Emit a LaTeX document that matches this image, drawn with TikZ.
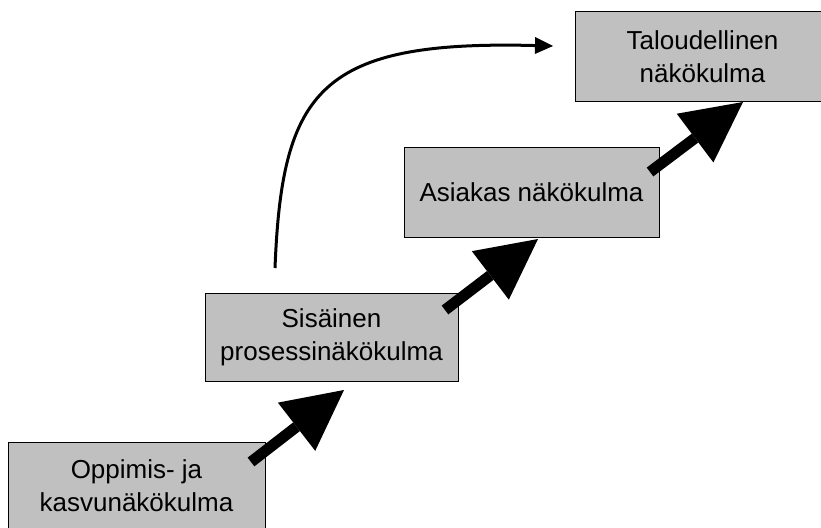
\documentclass[tikz,border=0pt]{standalone}
\usepackage{fontspec}
\setmainfont{Liberation Sans}
\usetikzlibrary{arrows.meta}
\definecolor{boxgray}{RGB}{192,192,192}
\begin{document}
\begin{tikzpicture}[x=1pt,y=-1pt,
  perspbox/.style={draw=black, line width=1pt, fill=boxgray, anchor=north west,
    inner sep=0pt, outer sep=0pt, align=center,
    font=\fontsize{26pt}{33pt}\selectfont, text=black},
  blockarrow/.style={line width=11pt, -{Triangle[length=60pt,width=61pt,line width=0pt]}},
  curvearrow/.style={line width=3pt, -{Triangle[length=18pt,width=17pt,line width=0pt]}}]
\fill[white] (0,0) rectangle (821,527);
\useasboundingbox (0,0) rectangle (821,527);
\clip (0,0) rectangle (821,527);
\node[perspbox, minimum width=257pt, minimum height=88pt] (b1) at (8,442) {Oppimis- ja\\kasvunäkökulma};
\node[perspbox, minimum width=253pt, minimum height=88pt] (b2) at (205,293) {Sisäinen\\prosessinäkökulma};
\node[perspbox, minimum width=255pt, minimum height=90pt] (b3) at (404,147) {Asiakas näkökulma};
\node[perspbox, minimum width=255pt, minimum height=89pt] (b4) at (575,12) {Taloudellinen\\näkökulma};
\coordinate (t1) at (251,462);
\coordinate (h1) at (344,390);
\coordinate (t2) at (445,310);
\coordinate (h2) at (538,239);
\coordinate (t3) at (650,172);
\coordinate (h3) at (743,102);
\draw[blockarrow] (t1) -- (h1);
\draw[blockarrow] (t2) -- (h2);
\draw[blockarrow] (t3) -- (h3);
\coordinate (cs) at (275,268);
\coordinate (ce) at (553,46);
\draw[curvearrow] (cs) .. controls (282,90) and (320,40) .. (ce);
\end{tikzpicture}
\end{document}
